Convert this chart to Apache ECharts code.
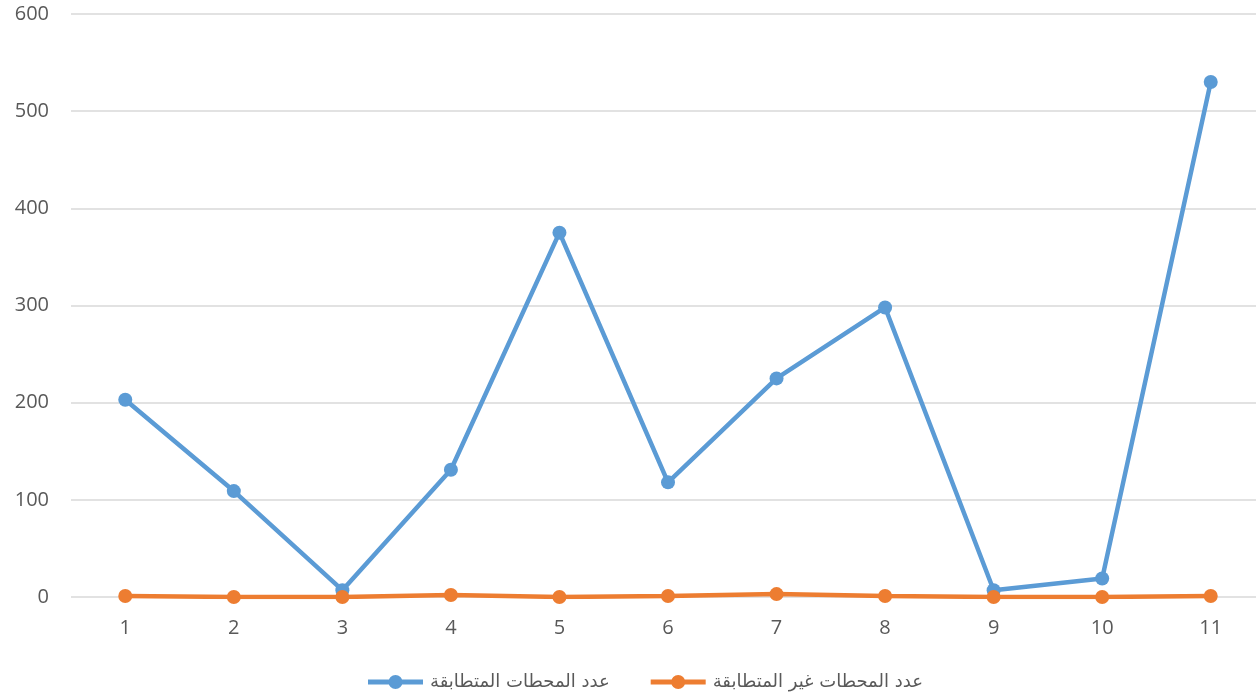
<!DOCTYPE html>
<html><head><meta charset="utf-8">
<script src="https://cdn.jsdelivr.net/npm/echarts@6/dist/echarts.min.js"></script>
<style>html,body{margin:0;padding:0;background:#fff}#c{width:1256px;height:694px}</style>
</head><body><div id="c"></div>
<script>
const categories = ['1','2','3','4','5','6','7','8','9','10','11'];
const matching = [203, 109, 7, 131, 375, 118, 225, 298, 7, 19, 530];
const nonMatching = [1, 0, 0, 2, 0, 1, 3, 1, 0, 0, 1];
const seriesNames = ['عدد المحطات المتطابقة', 'عدد المحطات غير المتطابقة'];
const yTicks = {min: 0, max: 600, interval: 100};

const legendIcon = 'path://M0,4.6h55v4.8h-55z M20.5,7a7,7 0 1,1 14,0a7,7 0 1,1 -14,0z';

const chart = echarts.init(document.getElementById('c'));
chart.setOption({
  animation: false,
  textStyle: {fontFamily: 'Open Sans, DejaVu Sans, sans-serif'},
  grid: {left: 71, top: 14, right: -9, bottom: 97, outerBoundsMode: 'none', containLabel: false},
  legend: {
    top: 668, left: 363, itemGap: 41,
    itemWidth: 55, itemHeight: 14,
    textStyle: {color: '#595959', fontSize: 18, fontFamily: 'DejaVu Sans, sans-serif', padding: [0, 0, 0, 2]},
    data: [
      {name: seriesNames[0], icon: legendIcon},
      {name: seriesNames[1], icon: legendIcon}
    ]
  },
  xAxis: {
    type: 'category', data: categories, boundaryGap: true,
    axisLine: {show: false}, axisTick: {show: false},
    axisLabel: {color: '#595959', fontSize: 20, margin: 21}
  },
  yAxis: {
    type: 'value', min: yTicks.min, max: yTicks.max, interval: yTicks.interval,
    axisLine: {show: false}, axisTick: {show: false},
    axisLabel: {color: '#595959', fontSize: 20, margin: 22},
    splitLine: {lineStyle: {color: '#d9d9d9', width: 1.5}}
  },
  series: [
    {name: seriesNames[0], type: 'line', data: matching, symbol: 'circle', symbolSize: 14,
     lineStyle: {color: '#5b9bd5', width: 4.5}, itemStyle: {color: '#5b9bd5'}, z: 2},
    {name: seriesNames[1], type: 'line', data: nonMatching, symbol: 'circle', symbolSize: 14,
     lineStyle: {color: '#ed7d31', width: 4.5}, itemStyle: {color: '#ed7d31'}, z: 3}
  ]
});
</script></body></html>
